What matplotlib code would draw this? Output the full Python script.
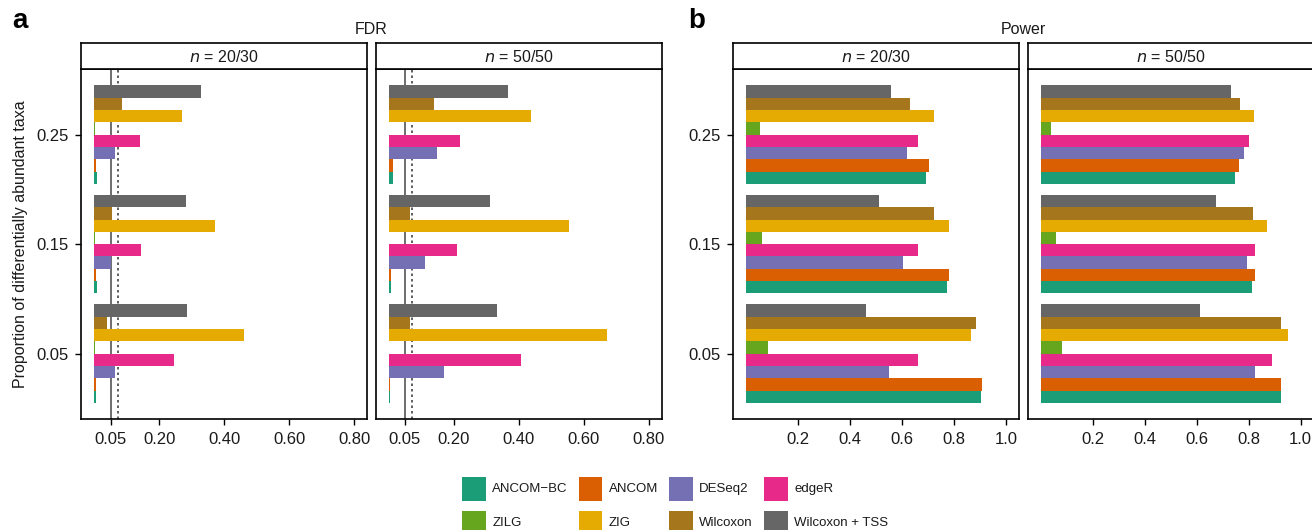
import matplotlib
matplotlib.use("Agg")
import matplotlib.pyplot as plt
from matplotlib.patches import Rectangle

plt.rcParams['font.family'] = ['Liberation Sans', 'DejaVu Sans']

# ---------------- data ----------------
methods = ["ANCOM\u2212BC", "ANCOM", "DESeq2", "edgeR", "ZILG", "ZIG", "Wilcoxon", "Wilcoxon + TSS"]
colors = ["#1B9E77", "#D95F02", "#7570B3", "#E7298A", "#66A61E", "#E6AB02", "#A6761D", "#666666"]
props = ["0.05", "0.15", "0.25"]
panels = ["20/30", "50/50"]

# values per method, ordered like props
fdr_20_30 = [
    [0.005, 0.007, 0.009],
    [0.004, 0.005, 0.006],
    [0.064, 0.050, 0.064],
    [0.245, 0.144, 0.142],
    [0.001, 0.001, 0.002],
    [0.460, 0.371, 0.269],
    [0.040, 0.054, 0.086],
    [0.285, 0.282, 0.328],
]
fdr_50_50 = [
    [0.004, 0.007, 0.014],
    [0.005, 0.007, 0.014],
    [0.172, 0.112, 0.148],
    [0.408, 0.210, 0.221],
    [0.001, 0.002, 0.002],
    [0.671, 0.555, 0.439],
    [0.065, 0.065, 0.141],
    [0.335, 0.313, 0.368],
]
power_20_30 = [
    [0.904, 0.770, 0.693],
    [0.907, 0.778, 0.701],
    [0.550, 0.603, 0.619],
    [0.661, 0.661, 0.661],
    [0.085, 0.061, 0.053],
    [0.866, 0.778, 0.723],
    [0.885, 0.723, 0.630],
    [0.461, 0.512, 0.558],
]
power_50_50 = [
    [0.923, 0.811, 0.746],
    [0.926, 0.824, 0.762],
    [0.824, 0.792, 0.781],
    [0.888, 0.824, 0.800],
    [0.080, 0.058, 0.041],
    [0.950, 0.869, 0.819],
    [0.923, 0.816, 0.765],
    [0.611, 0.674, 0.731],
]
fdr_ticks = [0.05, 0.20, 0.40, 0.60, 0.80]
fdr_ticklabels = ["0.05", "0.20", "0.40", "0.60", "0.80"]
power_ticks = [0.2, 0.4, 0.6, 0.8, 1.0]
power_ticklabels = ["0.2", "0.4", "0.6", "0.8", "1.0"]
nominal_level = 0.05
upper_level = 0.073

# ---------------- layout ----------------
W, H = 1312, 530
fig = plt.figure(figsize=(W / 100, H / 100), dpi=100)

def fr(x0, y0, w, h):
    return [x0 / W, 1 - (y0 + h) / H, w / W, h / H]

panel_top, panel_bot = 69.0, 419.3
strip_top = 43.3
pw = 286
lefts = [81.3, 375.5, 733.3, 1027.7]
datasets = [fdr_20_30, fdr_50_50, power_20_30, power_50_50]
BORDER = 1.2
TXT = 11.5
TICK = 12
bar_h = 0.9 / len(methods)

for k, (x0, data) in enumerate(zip(lefts, datasets)):
    is_fdr = k < 2
    ax = fig.add_axes(fr(x0, panel_top, pw, panel_bot - panel_top))
    for j, (vals, c) in enumerate(zip(data, colors)):
        ys = [i + (j - (len(methods) - 1) / 2) * bar_h for i in range(len(props))]
        ax.barh(ys, vals, height=bar_h, color=c, linewidth=0, zorder=3)
    if is_fdr:
        ax.axvline(nominal_level, color="#6e6e6e", lw=1.4, zorder=1)
        ax.axvline(upper_level, color="#444444", lw=1.2, ls=(0, (1.5, 1.8)), zorder=1)
        ax.set_xlim(-0.04, 0.84)
        ax.set_xticks(fdr_ticks)
        ax.set_xticklabels(fdr_ticklabels)
    else:
        ax.set_xlim(-0.05, 1.05)
        ax.set_xticks(power_ticks)
        ax.set_xticklabels(power_ticklabels)
    ax.set_ylim(-0.6, len(props) - 1 + 0.6)
    ax.set_yticks(range(len(props)))
    if k in (0, 2):
        ax.set_yticklabels(props)
    else:
        ax.tick_params(axis="y", left=False, labelleft=False)
    for s in ax.spines.values():
        s.set_linewidth(BORDER)
        s.set_color("black")
    ax.tick_params(axis="both", length=4, width=1.0, color="black",
                   labelsize=TICK, labelcolor="#1a1a1a")
    ax.tick_params(axis="x", pad=5)
    ax.tick_params(axis="y", pad=5)
    if k == 0:
        ax.set_ylabel("Proportion of differentially abundant taxa", fontsize=TXT,
                      color="#1a1a1a", labelpad=6)
    # strip
    sax = fig.add_axes(fr(x0, strip_top, pw, panel_top - strip_top))
    sax.set_xticks([]); sax.set_yticks([])
    for s in sax.spines.values():
        s.set_linewidth(BORDER)
        s.set_color("black")
    sax.text(0.5, 0.45, r"$\it{n}$ = " + panels[k % 2], ha="center", va="center",
             fontsize=TXT, color="#1a1a1a", transform=sax.transAxes)

# titles and panel letters
fig.text((lefts[0] + lefts[1] + pw) / 2 / W, 1 - 30 / H, "FDR", ha="center", va="center",
         fontsize=TXT, color="#1a1a1a")
fig.text((lefts[2] + lefts[3] + pw) / 2 / W, 1 - 30 / H, "Power", ha="center", va="center",
         fontsize=TXT, color="#1a1a1a")
fig.text(12 / W, 1 - 21 / H, "a", ha="left", va="center", fontsize=20, fontweight="bold")
fig.text(688 / W, 1 - 21 / H, "b", ha="left", va="center", fontsize=20, fontweight="bold")

# legend (4 columns x 2 rows)
col_x = [462.3, 579.0, 669.3, 764.3]
row_y = [476.7, 510.7]
sw_w, sw_h = 23.4, 24.0
for idx, (m, c) in enumerate(zip(methods, colors)):
    r, cidx = divmod(idx, 4)
    x, y = col_x[cidx], row_y[r]
    fig.patches.append(Rectangle((x / W, 1 - (y + sw_h) / H), sw_w / W, sw_h / H,
                                 transform=fig.transFigure, facecolor=c, edgecolor="none"))
    fig.text((x + sw_w + 6.5) / W, 1 - (y + sw_h / 2) / H, m, ha="left", va="center",
             fontsize=9.5, color="#1a1a1a")

fig.savefig("out.png", dpi=100)
